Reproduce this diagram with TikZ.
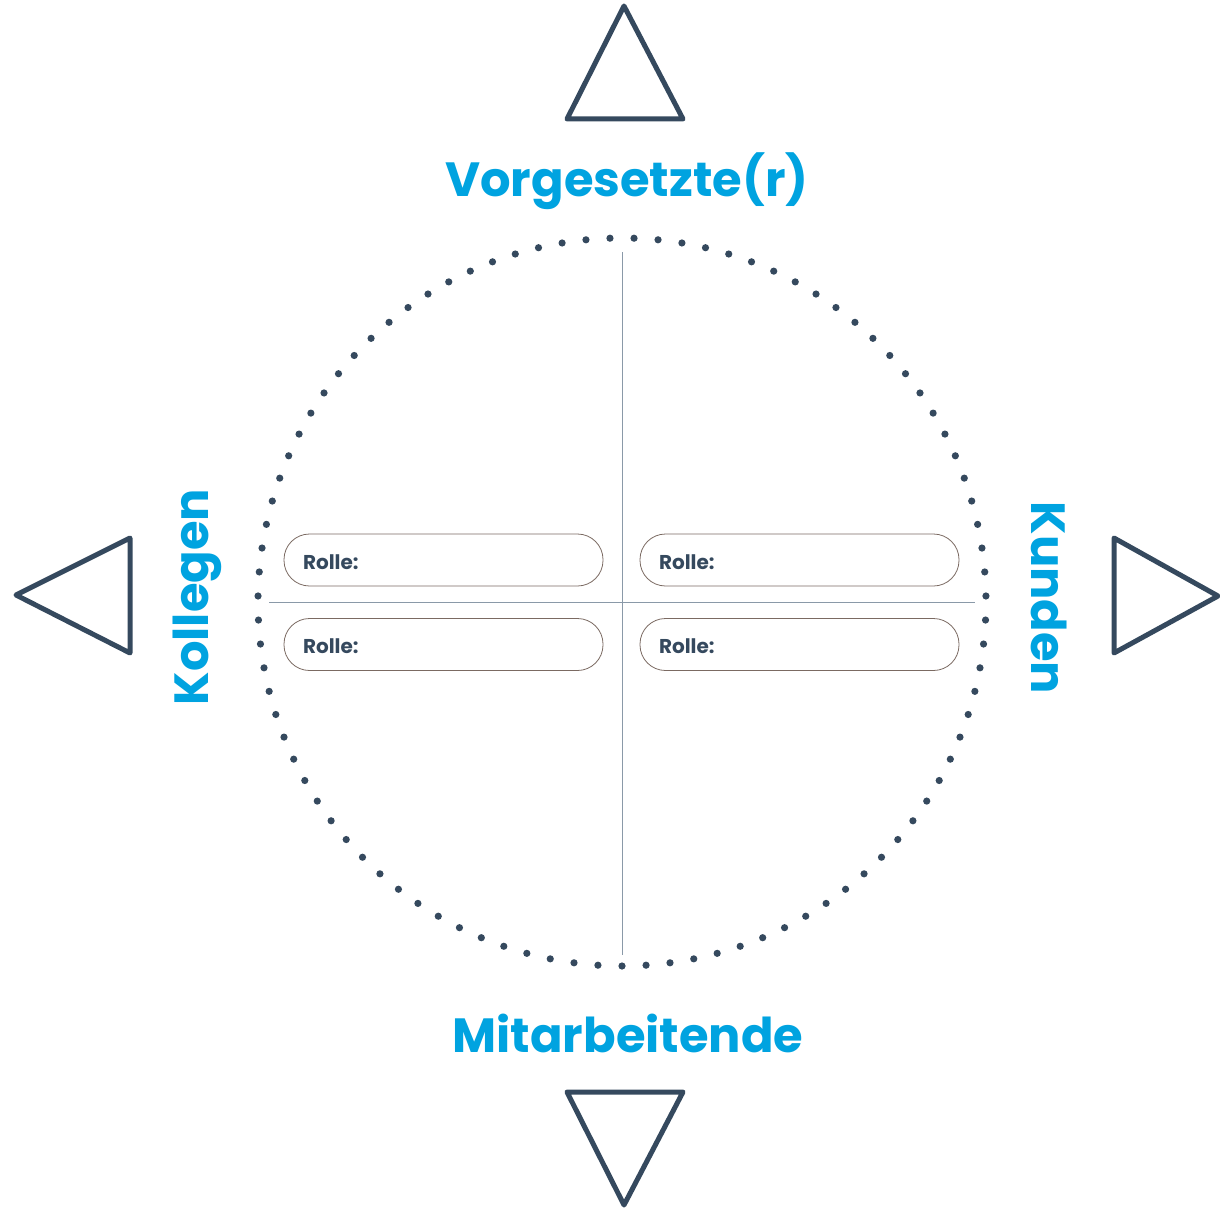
\documentclass[tikz,border=0pt]{standalone}
\usepackage{fontspec}
\setmainfont{Poppins}
\definecolor{dunkel}{HTML}{35495E}
\definecolor{cyanblau}{HTML}{00A3E0}
\definecolor{rahmen}{HTML}{7B6A62}
\definecolor{achse}{HTML}{8A99A8}
\tikzset{
  titel/.style={text=cyanblau, font=\bfseries\fontsize{48}{50}\selectfont, inner sep=0pt},
  rolle/.style={draw=rahmen, line width=0.8pt, rounded corners=25.5pt, minimum width=319pt,
    minimum height=52pt, text width=281pt, inner xsep=19pt, align=left,
    text height=20pt, text depth=2pt,
    text=dunkel, font=\bfseries\fontsize{20}{21}\selectfont},
  pfeil/.style={draw=dunkel, line width=5pt, line join=round},
}
\begin{document}
\begin{tikzpicture}[x=1pt,y=-1pt]
\useasboundingbox (0,0) rectangle (1220,1209);
% punktierter Kreis
\foreach \i in {0,...,94}
  \fill[dunkel] (622,602) ++({90+\i*3.78947}:364) circle (3.6);
% Achsen
\coordinate (o) at (622,252);
\coordinate (u) at (622,955);
\coordinate (l) at (269,602);
\coordinate (r) at (975,602);
\path[draw=achse,line width=1pt] (o) -- (u);
\path[draw=achse,line width=1pt] (l) -- (r);
% Dreiecke
\path[pfeil] (624,6) -- (683,119) -- (567,119) -- cycle;
\path[pfeil] (624,1205) -- (683,1092) -- (567,1092) -- cycle;
\path[pfeil] (16,595) -- (130,538) -- (130,653) -- cycle;
\path[pfeil] (1218,596) -- (1114,538) -- (1114,653) -- cycle;
% Beschriftungen
\node[titel] (1) at (627,181) {Vorgesetzte(r)};
\node[titel] (2) at (628,1033) {Mitarbeitende};
\node[titel,rotate=90] (3) at (197,597) {Kollegen};
\node[titel,rotate=-90] (4) at (1049,598) {Kunden};
% Rollen
\node[rolle] (5) at (443.5,560) {Rolle:};
\node[rolle] (6) at (443.5,644.5) {Rolle:};
\node[rolle] (7) at (799.5,560) {Rolle:};
\node[rolle] (8) at (799.5,644.5) {Rolle:};
\end{tikzpicture}
\end{document}
